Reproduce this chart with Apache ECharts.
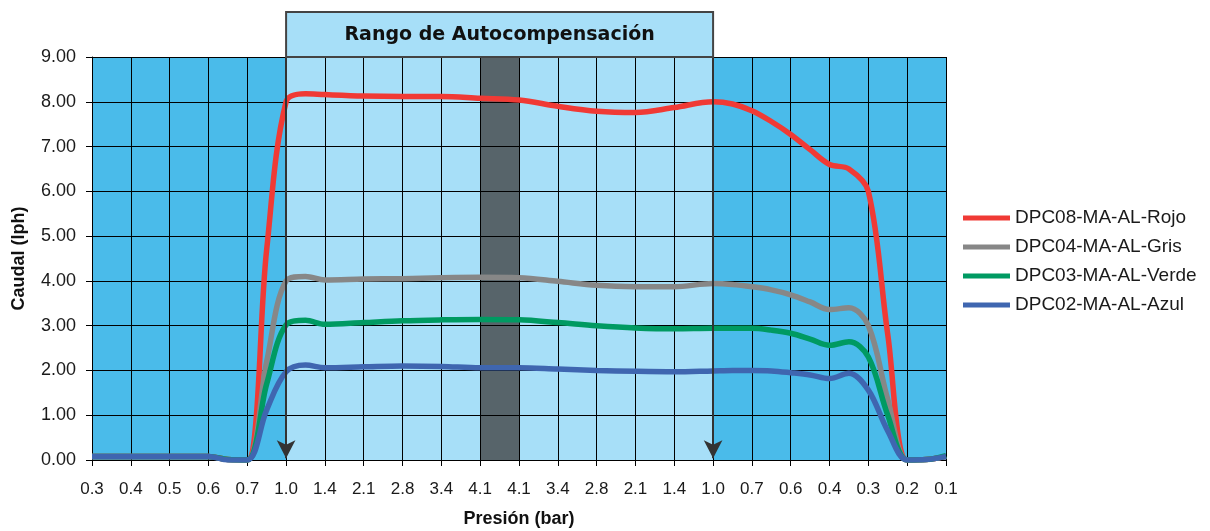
<!DOCTYPE html>
<html>
<head>
<meta charset="utf-8">
<script src="https://cdn.jsdelivr.net/npm/echarts@6/dist/echarts.min.js"></script>
<style>
  html, body { margin: 0; padding: 0; background: #fff; overflow: hidden; }
  #chart { width: 1210px; height: 531px; }
</style>
</head>
<body>
<div id="chart"></div>
<script>
// Pressure tick labels (bar): rising pressure, then falling pressure
const pressureLabels = ['0.3','0.4','0.5','0.6','0.7','1.0','1.4','2.1','2.8','3.4','4.1',
                        '4.1','3.4','2.8','2.1','1.4','1.0','0.7','0.6','0.4','0.3','0.2','0.1'];

// Measurement positions along the pressure sweep (in tick steps)
const samplePos = [0, 1, 2, 3, 3.5, 4, 4.5, 5, 5.5, 6, 7, 8, 9, 10, 11, 12, 13, 14, 15, 16,
                   16.5, 17, 17.5, 18, 18.5, 19, 19.5, 20, 20.5, 21, 21.5, 22];

// Flow (lph) per dripper model
const rojo  = [0.08, 0.08, 0.08, 0.08, 0.01, 0.00, 4.70, 8.00, 8.18, 8.16, 8.13, 8.12, 8.12, 8.08, 8.04, 7.90, 7.79, 7.76, 7.87, 8.00,
               7.95, 7.80, 7.56, 7.27, 6.93, 6.60, 6.50, 6.00, 2.80, 0.00, 0.01, 0.08];
const gris  = [0.08, 0.08, 0.08, 0.08, 0.01, 0.00, 2.20, 4.00, 4.10, 4.02, 4.04, 4.05, 4.07, 4.08, 4.07, 3.99, 3.90, 3.87, 3.87, 3.94,
               3.92, 3.87, 3.80, 3.69, 3.53, 3.36, 3.40, 3.00, 1.35, 0.00, 0.01, 0.08];
const verde = [0.08, 0.08, 0.08, 0.08, 0.01, 0.00, 1.70, 3.02, 3.12, 3.03, 3.07, 3.11, 3.13, 3.14, 3.13, 3.07, 3.00, 2.95, 2.93, 2.94,
               2.94, 2.94, 2.90, 2.83, 2.70, 2.56, 2.64, 2.30, 1.00, 0.00, 0.01, 0.10];
const azul  = [0.08, 0.08, 0.08, 0.08, 0.00, 0.00, 1.12, 1.97, 2.12, 2.06, 2.08, 2.10, 2.09, 2.06, 2.06, 2.03, 2.00, 1.98, 1.97, 1.99,
               2.00, 2.00, 1.99, 1.95, 1.90, 1.82, 1.94, 1.56, 0.65, 0.00, 0.01, 0.08];

const seriesNames = ['DPC08-MA-AL-Rojo', 'DPC04-MA-AL-Gris', 'DPC03-MA-AL-Verde', 'DPC02-MA-AL-Azul'];
const seriesColors = ['#F03A35', '#878787', '#009A62', '#3F66B0'];
const seriesValues = [rojo, gris, verde, azul];

// Self-compensation range: from first 1.0 tick to second 1.0 tick; peak pressure column in between
const rangeStart = 5, rangeEnd = 16, peakStart = 10, peakEnd = 11;
const rangeTitle = 'Rango de Autocompensación';

const outerBlue = '#4ABBEA', innerBlue = '#A7DFF8', peakGray = '#57646A';
const bandColors = [];
for (let i = 0; i < pressureLabels.length - 1; i++) {
  if (i >= peakStart && i < peakEnd) bandColors.push(peakGray);
  else if (i >= rangeStart && i < rangeEnd) bandColors.push(innerBlue);
  else bandColors.push(outerBlue);
}

const chart = echarts.init(document.getElementById('chart'));
const font = '"Liberation Sans", Arial, sans-serif';

const lineSeries = seriesNames.map((name, k) => ({
  name: name,
  type: 'line',
  data: samplePos.map((x, j) => [x, seriesValues[k][j]]),
  smooth: 0.35,
  showSymbol: false,
  symbol: 'none',
  z: 3,
  lineStyle: { color: seriesColors[k], width: 5.5 },
  itemStyle: { color: seriesColors[k] },
  emphasis: { disabled: true }
}));

// Arrows marking the edges of the range
lineSeries.push({
  name: 'arrows',
  type: 'line',
  data: [],
  z: 2,
  silent: true,
  markLine: {
    silent: true,
    symbol: ['none', 'arrow'],
    symbolSize: [14, 18],
    label: { show: false },
    lineStyle: { color: '#333', width: 2, type: 'solid' },
    itemStyle: { color: '#000' },
    data: [
      [{ coord: [rangeStart, 9] }, { coord: [rangeStart, 0.04] }],
      [{ coord: [rangeEnd, 9] }, { coord: [rangeEnd, 0.04] }]
    ]
  }
});

chart.setOption({
  animation: false,
  grid: { left: 92, right: 264, top: 57, bottom: 71, containLabel: false, outerBoundsMode: 'none' },
  legend: {
    data: seriesNames,
    orient: 'vertical',
    left: 958,
    top: 203,
    icon: 'rect',
    itemWidth: 47,
    itemHeight: 5,
    itemGap: 9,
    selectedMode: false,
    textStyle: { fontFamily: font, fontSize: 19, color: '#1a1a1a', lineHeight: 20 }
  },
  xAxis: {
    type: 'value',
    min: 0,
    max: pressureLabels.length - 1,
    interval: 1,
    z: 0,
    name: 'Presión (bar)',
    nameLocation: 'middle',
    nameGap: 50,
    nameTextStyle: { fontFamily: font, fontSize: 18, fontWeight: 'bold', color: '#111' },
    axisLine: { show: true, onZero: false, lineStyle: { color: '#000', width: 1 } },
    axisTick: { show: true, length: 6, lineStyle: { color: '#000' } },
    axisLabel: {
      fontFamily: font, fontSize: 17, color: '#1a1a1a', margin: 21,
      formatter: v => pressureLabels[Math.round(v)] || ''
    },
    splitLine: { show: true, lineStyle: { color: '#000', width: 1 } },
    splitArea: { show: true, areaStyle: { color: bandColors, opacity: 1 } }
  },
  yAxis: {
    type: 'value',
    min: 0,
    max: 9,
    interval: 1,
    z: 1,
    name: 'Caudal (lph)',
    nameLocation: 'middle',
    nameGap: 64,
    nameRotate: 90,
    nameTextStyle: { fontFamily: font, fontSize: 18, fontWeight: 'bold', color: '#111' },
    axisLine: { show: true, lineStyle: { color: '#000', width: 1 } },
    axisTick: { show: true, length: 6, lineStyle: { color: '#000' } },
    axisLabel: { fontFamily: font, fontSize: 18, color: '#1a1a1a', margin: 16, formatter: v => v.toFixed(2) },
    splitLine: { show: true, lineStyle: { color: '#000', width: 1 } }
  },
  series: lineSeries
});

// Title box over the self-compensation range, placed from the axis scale
const bx0 = chart.convertToPixel({ xAxisIndex: 0 }, rangeStart);
const bx1 = chart.convertToPixel({ xAxisIndex: 0 }, rangeEnd);
const byTop = chart.convertToPixel({ yAxisIndex: 0 }, 9);
const boxTop = 12;
chart.setOption({
  graphic: [
    {
      type: 'rect',
      z: 10,
      shape: { x: bx0, y: boxTop, width: bx1 - bx0, height: byTop - boxTop },
      style: { fill: innerBlue, stroke: '#444', lineWidth: 2 }
    },
    {
      type: 'text',
      z: 11,
      x: (bx0 + bx1) / 2,
      y: (boxTop + byTop) / 2 + 1,
      style: {
        text: rangeTitle,
        fill: '#111',
        font: 'bold 19px "DejaVu Sans", sans-serif',
        align: 'center',
        verticalAlign: 'middle'
      }
    }
  ]
});
</script>
</body>
</html>
